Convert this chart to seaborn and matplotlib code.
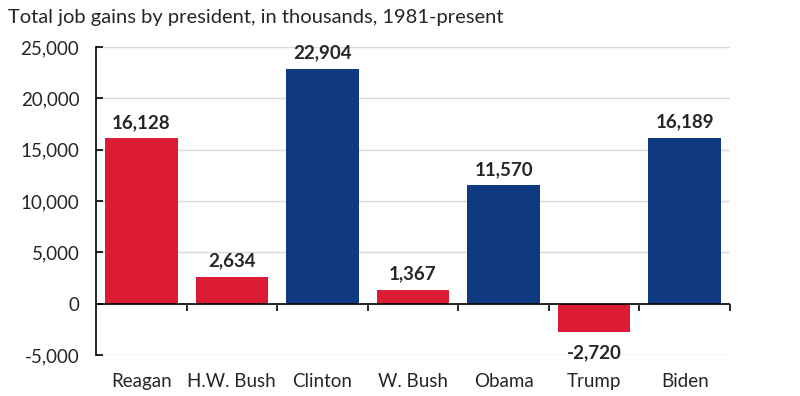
import numpy as np
import pandas as pd
import matplotlib
matplotlib.use("Agg")
import matplotlib.pyplot as plt
import seaborn as sns

presidents = ["Reagan", "H.W. Bush", "Clinton", "W. Bush", "Obama", "Trump", "Biden"]
job_gains = [16128, 2634, 22904, 1367, 11570, -2720, 16189]
party = ["R", "R", "D", "R", "D", "R", "D"]
party_colors = {"R": "#DC1B35", "D": "#0F3A82"}

df = pd.DataFrame({"president": presidents, "gains": job_gains, "party": party})

sns.set_style("ticks")
plt.rcParams["font.family"] = ["Lato", "DejaVu Sans"]

fig = plt.figure(figsize=(8, 3.96), dpi=100)
ax = fig.add_axes([0.12, 0.1035, 0.7925, 0.7775])

sns.barplot(data=df, x="president", y="gains", hue="party", palette=party_colors,
            dodge=False, width=0.8, saturation=1, legend=False, linewidth=0, ax=ax)

ax.set_ylim(-5000, 25000)
ax.set_xlim(-0.5, len(presidents) - 0.5)
ax.set_yticks(np.arange(-5000, 25001, 5000))
ax.set_yticklabels([f"{v:,}" for v in np.arange(-5000, 25001, 5000)], fontsize=13.5)
ax.yaxis.grid(True, color="#D9D9D9", linewidth=1)
ax.set_axisbelow(True)
ax.set_xlabel("")
ax.set_ylabel("")
ax.tick_params(axis="y", direction="in", length=5, width=1.2, color="black", pad=12, left=True)
ax.tick_params(axis="x", length=0, labelsize=13.5, pad=13)

for s in ["top", "right", "bottom"]:
    ax.spines[s].set_visible(False)
ax.spines["left"].set_color("black")
ax.spines["left"].set_linewidth(1.2)

# zero line with category-boundary ticks
ax.axhline(0, color="black", linewidth=1.2, zorder=4)
zero = ax.secondary_xaxis(5000 / 30000)
zero.set_xticks(np.arange(0.5, len(presidents) + 0.5, 1.0))
zero.set_xticklabels([])
zero.tick_params(direction="out", length=5, width=1.2, color="black")
zero.spines["bottom"].set_visible(False)

for i, v in enumerate(job_gains):
    if v >= 0:
        ax.annotate(f"{v:,}", (i, v), xytext=(0, 5), textcoords="offset points",
                    ha="center", va="bottom", fontsize=13.5, fontweight="bold")
    else:
        ax.annotate(f"{v:,}", (i, v), xytext=(0, -9), textcoords="offset points",
                    ha="center", va="top", fontsize=13.5, fontweight="bold")

fig.text(0.01, 0.955, "Total job gains by president, in thousands, 1981-present",
         fontsize=14.5, ha="left", va="center")

fig.savefig("out.png", dpi=100)
